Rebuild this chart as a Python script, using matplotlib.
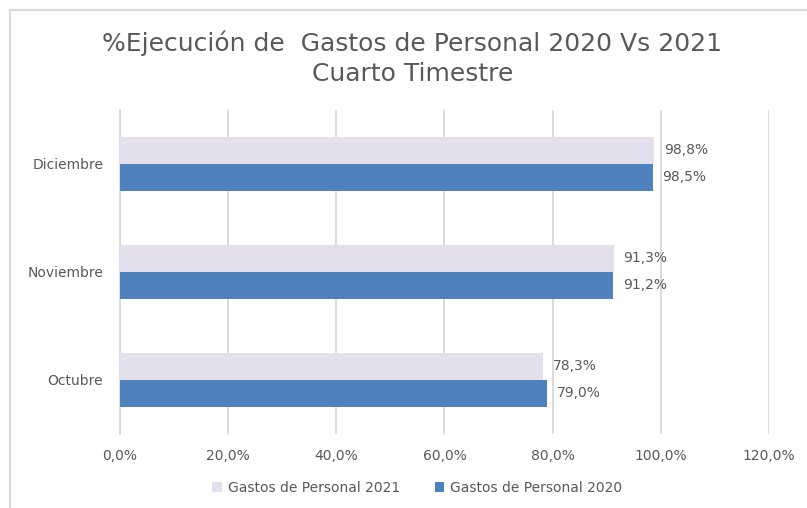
import matplotlib.pyplot as plt
import numpy as np
from matplotlib.lines import Line2D
from matplotlib.patches import Patch

months = ["Octubre", "Noviembre", "Diciembre"]
gastos_2021 = [78.3, 91.3, 98.8]
gastos_2020 = [79.0, 91.2, 98.5]
x_ticks = [0, 20, 40, 60, 80, 100, 120]

TEXT = "#595959"
GRID = "#D9D9D9"
C2021 = "#E4DFEC"
C2020 = "#4F81BD"


def pct(v):
    return f"{v:.1f}%".replace(".", ",")


fig = plt.figure(figsize=(8.07, 5.08), dpi=100)
ax = fig.add_axes([0.1487, 0.1457, 0.8042, 0.6378])

y = np.arange(len(months))
h = 0.25
ax.barh(y + h / 2, gastos_2021, height=h, color=C2021, zorder=3)
ax.barh(y - h / 2, gastos_2020, height=h, color=C2020, zorder=3)

for yi, v in zip(y, gastos_2021):
    ax.text(v + 1.8, yi + h / 2, pct(v), va="center", ha="left",
            fontsize=10, color=TEXT)
for yi, v in zip(y, gastos_2020):
    ax.text(v + 1.8, yi - h / 2, pct(v), va="center", ha="left",
            fontsize=10, color=TEXT)

ax.set_xlim(0, 120)
ax.set_ylim(-0.5, 2.5)
ax.set_xticks(x_ticks)
ax.set_xticklabels([pct(t) for t in x_ticks])
ax.set_yticks(y)
ax.set_yticklabels(months)
ax.tick_params(axis="both", length=0, labelsize=10, labelcolor=TEXT)
ax.tick_params(axis="x", pad=11)
ax.tick_params(axis="y", pad=12)
ax.grid(axis="x", color=GRID, linewidth=1.3, zorder=0)
for s in ["top", "right", "bottom"]:
    ax.spines[s].set_visible(False)
ax.spines["left"].set_color(GRID)
ax.spines["left"].set_linewidth(1.3)

fig.text(0.511, 0.915, "%Ejecución de  Gastos de Personal 2020 Vs 2021",
         ha="center", va="center", fontsize=18, color=TEXT)
fig.text(0.511, 0.855, "Cuarto Timestre", ha="center", va="center",
         fontsize=18, color=TEXT)

handles = [Patch(facecolor=C2021, label="Gastos de Personal 2021"),
           Patch(facecolor=C2020, label="Gastos de Personal 2020")]
fig.legend(handles=handles, loc="center", bbox_to_anchor=(0.517, 0.039),
           ncol=2, frameon=False, fontsize=10, labelcolor=TEXT,
           handlelength=0.7, handleheight=0.7, handletextpad=0.4,
           columnspacing=2.5)

# chart border (left and top edges visible)
fig.add_artist(Line2D([10 / 807, 10 / 807], [0, 1 - 10 / 508], color=GRID, linewidth=1.5))
fig.add_artist(Line2D([10 / 807, 1], [1 - 10 / 508, 1 - 10 / 508], color=GRID, linewidth=1.5))

fig.savefig("out.png", dpi=100)
